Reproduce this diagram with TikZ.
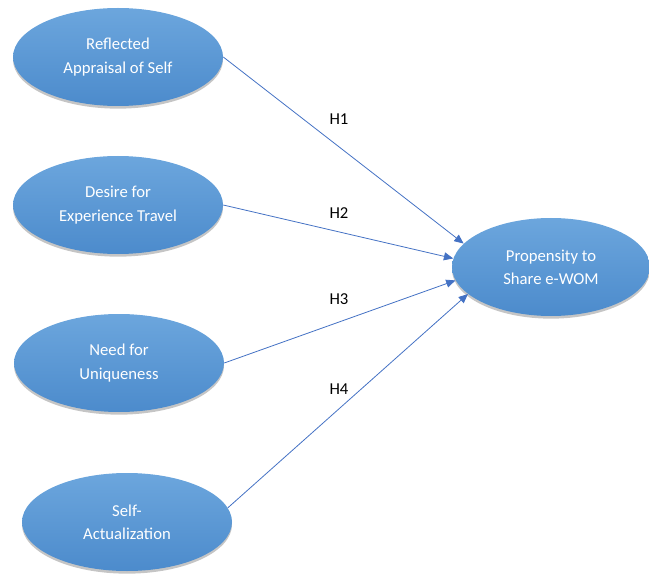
\documentclass[tikz,border=0pt]{standalone}
\usepackage{fontspec}
\setmainfont{Carlito}
\usetikzlibrary{shapes.geometric,arrows.meta,shadows}

\tikzset{
  construct/.style={ellipse, minimum width=157.5pt, minimum height=73.5pt, inner sep=0pt,
    top color={rgb,255:red,108;green,166;blue,221}, bottom color={rgb,255:red,76;green,139;blue,204},
    draw=none, text=white, align=center, font=\fontsize{12.5}{17.5}\selectfont,
    drop shadow={shadow xshift=0pt, shadow yshift=-2pt, fill=black!45, opacity=0.5}},
  hyp/.style={draw={rgb,255:red,68;green,114;blue,196}, line width=0.6pt,
    -{Triangle[length=7pt,width=6pt]}},
  hlabel/.style={inner sep=0.75pt, font=\fontsize{12.5}{15}\selectfont}
}

\begin{document}
\begin{tikzpicture}[x=0.75pt,y=0.75pt,yscale=-1,xscale=1]
  \useasboundingbox (0,0) rectangle (649,577);

  % Ellipses
  \node [construct] (refl) at (118,57) {Reflected\\Appraisal of Self};
  \node [construct] (desire) at (118,205) {Desire for\\Experience Travel};
  \node [construct] (unique) at (119,363) {Need for\\Uniqueness};
  \node [construct] (actual) at (127,522) {Self-\\Actualization};
  \node [construct, minimum width=148.5pt] (share) at (551,267) {Propensity to\\Share e-WOM};

  % Arrows
  \draw [hyp] (refl.east) -- (share.165);
  \draw [hyp] (desire.east) -- (share.175);
  \draw [hyp] (unique.east) -- (share.188);
  \draw [hyp] (actual.8) -- (share.198);

  % Text Node
  \node [hlabel] (h1) at (339,119) {H1};
  \node [hlabel] (h2) at (339,213) {H2};
  \node [hlabel] (h3) at (339,299) {H3};
  \node [hlabel] (h4) at (339,389) {H4};
\end{tikzpicture}
\end{document}
